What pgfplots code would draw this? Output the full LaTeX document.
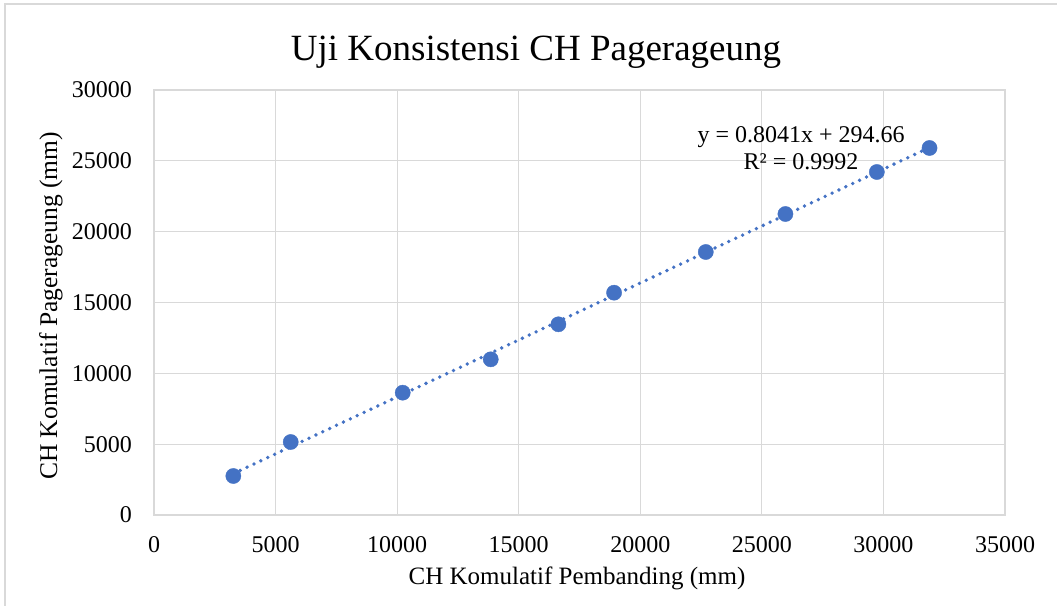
\documentclass[border=0pt]{standalone}
\usepackage{pgfplots}
\pgfplotsset{compat=1.18}
\usepackage{fontspec}
\setmainfont{Liberation Serif}
\definecolor{ptblue}{HTML}{4472C4}
\definecolor{gridgray}{HTML}{D9D9D9}
\begin{document}
\fontsize{24bp}{28bp}\selectfont
\begin{tikzpicture}
\useasboundingbox (0,0) rectangle (1057bp,606bp);
\draw[gridgray, line width=1.5bp] (5bp,0) -- (5bp,602bp) -- (1057bp,602bp);
\node[font=\fontsize{37bp}{40bp}\selectfont] at (536bp,554bp) {Uji Konsistensi CH Pagerageung};
\node[font=\fontsize{25bp}{28bp}\selectfont] at (577bp,28bp) {CH Komulatif Pembanding (mm)};
\node[rotate=90, font=\fontsize{25.5bp}{28bp}\selectfont] at (51bp,300bp) {CH Komulatif Pagerageung (mm)};
\begin{axis}[
  at={(154bp,91bp)}, anchor=south west,
  scale only axis, width=851bp, height=425bp,
  xmin=0, xmax=35000, ymin=0, ymax=30000,
  xtick={0,5000,...,35000}, ytick={0,5000,...,30000},
  /pgf/number format/assume math mode=true,
  scaled ticks=false,
  xticklabel={\pgfmathprintnumber[fixed,1000 sep={}]{\tick}},
  yticklabel={\pgfmathprintnumber[fixed,1000 sep={}]{\tick}},
  grid=major,
  major grid style={gridgray, line width=1.2bp},
  axis line style={gridgray, line width=1.5bp},
  major tick length=0pt,
  xticklabel style={yshift=-13bp},
  yticklabel style={xshift=-14bp},
  tick label style={font=\fontsize{24bp}{28bp}\selectfont},
  clip=false,
]
\addplot[ptblue, line width=3.8bp, line cap=round, dash pattern=on 0pt off 7.6bp] coordinates {(3262,2918) (31895,25941)};
\addplot[only marks, mark=*, mark size=7.6bp, mark options={fill=ptblue, draw=ptblue}] coordinates {
(3262,2753) (5623,5153) (10230,8633) (13850,10990) (16632,13461)
(18922,15692) (22694,18565) (25970,21247) (29728,24212) (31895,25906)};
\node[align=center, inner sep=0pt, font=\fontsize{24bp}{26.5bp}\selectfont] at (axis cs:26614,25880) {y = 0.8041x + 294.66\\R² = 0.9992};
\end{axis}
\end{tikzpicture}
\end{document}
